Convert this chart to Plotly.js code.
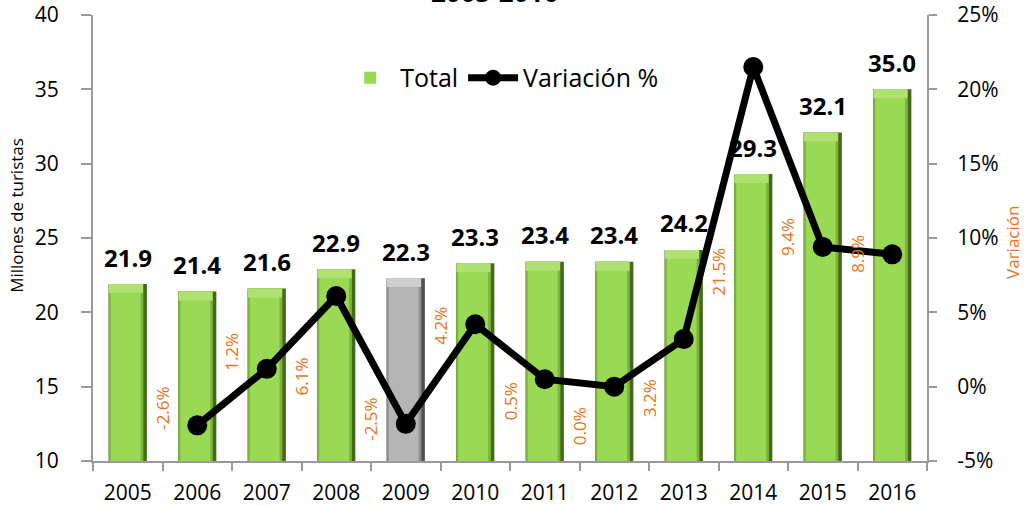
<!DOCTYPE html>
<html>
<head>
<meta charset="utf-8">
<script src="https://cdn.plot.ly/plotly-3.0.1.min.js"></script>
<style>html,body{margin:0;padding:0;background:#fff;}#chart{width:1026px;height:506px;}</style>
</head>
<body>
<div id="chart"></div>
<script>
// ---- data ----
const years = ["2005","2006","2007","2008","2009","2010","2011","2012","2013","2014","2015","2016"];
const totals = [21.9, 21.4, 21.6, 22.9, 22.3, 23.3, 23.4, 23.4, 24.2, 29.3, 32.1, 35.0];
const varYears = ["2006","2007","2008","2009","2010","2011","2012","2013","2014","2015","2016"];
const variation = [-2.6, 1.2, 6.1, -2.5, 4.2, 0.5, 0.0, 3.2, 21.5, 9.4, 8.9];
const highlightYear = "2009";
const pctTickVals = [-5, 0, 5, 10, 15, 20, 25];
const pctTickText = ["-5%", "0%", "5%", "10%", "15%", "20%", "25%"];
// label vertical offsets (px, style only)
const varLabelShift = [17, 17, -81, 4, -2, -22, -40, -59, -205, 10, 0];

const FONT = "Open Sans, Liberation Sans, sans-serif";
const ORANGE = "#E8731A";
const AXBASE = 10;

const isHi = years.map(y => y === highlightYear);
const shadowCol = isHi.map(h => h ? "#505050" : "#44691a");
const edgeCol   = isHi.map(h => h ? "#8f8f8f" : "#7db33c");
const bodyCol   = isHi.map(h => h ? "#b5b5b5" : "#9ad953");
const capCol    = isHi.map(h => h ? "#cfcfcf" : "#aee171");

const heights = totals.map(v => v - AXBASE);
const traces = [
  {type:"bar", x:years, y:heights, base:AXBASE, width:0.55, offset:-0.275,
   marker:{color:shadowCol, line:{width:0}}, showlegend:false, hoverinfo:"skip"},
  {type:"bar", x:years, y:heights, base:AXBASE, width:0.50, offset:-0.275,
   marker:{color:edgeCol, line:{width:0}}, showlegend:false, hoverinfo:"skip"},
  {type:"bar", name:"Total", x:years, y:heights, base:AXBASE, width:0.43, offset:-0.245,
   marker:{color:bodyCol, line:{width:0}}, showlegend:true},
  {type:"bar", x:years, y:totals.map(()=>0.6), base:totals.map(v=>v-0.6), width:0.49, offset:-0.27,
   marker:{color:capCol, line:{width:0}}, showlegend:false, hoverinfo:"skip"},
  {type:"scatter", mode:"lines+markers", name:"Variación %", x:varYears, y:variation, yaxis:"y2",
   line:{color:"#000", width:7}, marker:{color:"#000", size:20}}
];

const annotations = [];
totals.forEach((v,i)=>{
  annotations.push({x:i, y:v, xref:"x", yref:"y", text:"<b>"+v.toFixed(1)+"</b>", showarrow:false,
    xanchor:"center", yanchor:"middle", yshift:27, font:{family:FONT, size:24, color:"#000"}});
});
variation.forEach((v,i)=>{
  const idx = years.indexOf(varYears[i]);
  annotations.push({x:idx-0.5, y:v, xref:"x", yref:"y2", text:v.toFixed(1)+"%", showarrow:false,
    textangle:-90, yanchor:"middle", xanchor:"center", yshift:varLabelShift[i],
    font:{family:FONT, size:17, color:ORANGE}});
});
annotations.push({x:0.482, y:1.007, xref:"paper", yref:"paper", text:"<b>2005-2016</b>", showarrow:false,
  xanchor:"center", yanchor:"bottom", font:{family:FONT, size:26, color:"#000"}});
annotations.push({x:-0.091, y:0.55, xref:"paper", yref:"paper", text:"Millones de turistas", showarrow:false,
  xanchor:"center", yanchor:"middle", textangle:-90, font:{family:FONT, size:17, color:"#000"}});
annotations.push({x:1.1025, y:0.49, xref:"paper", yref:"paper", text:"Variación", showarrow:false,
  xanchor:"center", yanchor:"middle", textangle:-90, font:{family:FONT, size:17, color:ORANGE}});

const layout = {
  width:1026, height:506,
  margin:{l:93, r:99, t:15, b:45},
  paper_bgcolor:"#fff", plot_bgcolor:"#fff",
  barmode:"overlay",
  font:{family:FONT, size:21, color:"#000"},
  showlegend:true,
  legend:{orientation:"h", x:0.49, y:0.859, xanchor:"center", yanchor:"middle",
    font:{family:FONT, size:25, color:"#000"}, bgcolor:"rgba(0,0,0,0)", itemwidth:50},
  xaxis:{type:"category", range:[-0.5, 11.5], showline:true, linecolor:"#9a9a9a", linewidth:2,
    ticks:"outside", tickson:"boundaries", ticklen:8, tickcolor:"#9a9a9a", tickwidth:2,
    showgrid:false, zeroline:false, ticklabelstandoff:12, tickfont:{size:21}},
  yaxis:{range:[10,40], dtick:5, tick0:10, showline:true, linecolor:"#9a9a9a", linewidth:2,
    ticks:"outside", ticklen:10, tickcolor:"#9a9a9a", tickwidth:2, showgrid:false, zeroline:false,
    ticklabelstandoff:18, tickfont:{size:21}},
  yaxis2:{range:[-5,25], tickmode:"array", tickvals:pctTickVals, ticktext:pctTickText,
    overlaying:"y", side:"right",
    showline:true, linecolor:"#9a9a9a", linewidth:2, ticks:"outside", ticklen:8, tickcolor:"#9a9a9a",
    tickwidth:2, showgrid:false, zeroline:false, ticklabelstandoff:16, tickfont:{size:21}},
  annotations:annotations
};

Plotly.newPlot("chart", traces, layout, {displayModeBar:false, staticPlot:true});
</script>
</body>
</html>
